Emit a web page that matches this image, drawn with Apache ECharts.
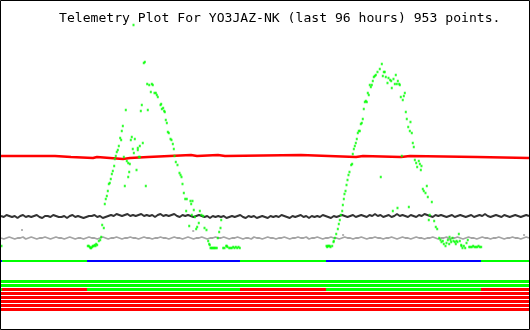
<!DOCTYPE html>
<html><head><meta charset="utf-8">
<script src="https://cdn.jsdelivr.net/npm/echarts@6/dist/echarts.min.js"></script>
<style>html,body{margin:0;padding:0;background:#fff}#c{width:530px;height:330px}</style>
</head><body><div id="c"></div>
<script>
// ---------- data (x in hours over the last 96 h, y in plot units) ----------
const titleText = 'Telemetry Plot For YO3JAZ-NK (last 96 hours) 953 points.';
const spanHours = [0, 96];
const sampleStepHours = 0.5;

// red channel: step changes
const redBreakHours = [0, 9.82, 12.73, 16.73, 17.45, 22.18, 23.45, 26.73, 34.55, 35.64, 39.45, 40.73, 54.55, 64.55, 65.82, 72.73, 74.36, 86.55, 96];
const redLevels     = [174, 173, 172, 173, 171, 172, 173, 175, 174, 175, 174, 175, 173, 174, 173, 174, 173, 172, 172];

// dark channel (every 0.5 h)
const blackLevels = [
114,113,115,114,113,114,112,114,115,113,
114,113,114,115,113,112,114,114,113,115,
114,113,113,114,112,114,115,113,114,113,
112,113,114,114,115,113,114,112,113,114,
115,114,116,115,114,115,116,114,115,114,
115,116,114,115,114,115,113,115,116,114,
115,114,115,116,114,113,115,114,115,114,
113,114,115,114,113,114,112,114,113,114,
113,114,112,113,114,113,114,115,113,112,
114,113,114,112,113,114,113,112,114,113,
114,113,115,114,113,112,114,113,114,115,
113,114,112,114,113,114,113,115,114,113,
112,114,113,114,115,114,113,114,115,113,
114,115,114,113,115,114,116,114,115,113,
114,115,113,114,116,114,115,114,113,115,
114,113,115,114,116,115,114,113,115,114,
115,114,113,114,115,113,114,115,114,113,
114,115,113,114,115,114,116,114,113,114,
115,114,113,115,114,113,114,115,114,113,
114,115,114];

// grey channel (every 0.5 h)
const grayLevels = [
92,91,92,93,92,91,92,92,93,91,
92,93,92,91,92,92,93,92,91,92,
93,92,92,91,92,93,92,91,92,92,
91,92,93,92,92,91,92,93,92,91,
92,92,93,92,91,92,92,93,92,92,
91,92,93,92,92,91,92,92,93,92,
92,91,92,93,92,92,91,92,93,92,
91,92,92,93,92,91,92,92,93,92,
92,93,92,91,92,92,93,92,91,92,
92,91,93,92,92,91,92,93,92,92,
91,92,92,93,92,91,92,92,93,92,
92,93,91,92,92,93,92,91,92,92,
93,92,92,91,92,93,92,92,91,92,
92,93,92,91,92,92,93,92,92,91,
92,92,93,92,91,92,93,92,92,91,
92,93,92,92,91,92,92,93,92,91,
92,92,93,91,92,92,93,92,91,92,
93,92,92,91,92,93,92,92,91,92,
92,93,92,91,92,92,93,92,92,91,
92,93,92];
const grayOutliers = [[3.82,100],[34.95,99],[62.2,95],[95.1,95]];

// green channel: first daylight pass [hours, value]
const greenPass1 = [
[0.09,84],
[15.78,84],[15.96,84],[16.15,83],[16.27,82],[16.40,82],[16.58,83],[16.69,84],[16.87,84],[17.05,85],[17.18,84],
[17.31,86],[17.49,85],[17.78,89],[18.04,90],[18.22,93],[18.40,105],[18.69,102],[18.87,126],[19.05,131],[19.24,134],
[19.42,139],[19.60,146],[19.78,147],[19.96,151],[20.15,156],[20.33,159],[20.58,164],[20.69,171],[20.87,174],[21.05,178],
[21.24,180],[21.42,184],[21.67,192],[21.85,190],[21.96,199],[22.15,204],[22.33,173],[22.51,144],[22.69,220],[22.87,169],
[23.13,167],[23.13,153],[23.31,158],[23.42,166],[23.60,190],[23.78,193],[23.96,181],[24.09,305],[24.15,177],[24.33,191],
[24.64,160],[24.87,182],[24.87,180],[25.05,173],[25.24,184],[25.24,173],[25.42,219],[25.60,225],[25.78,187],[25.96,267],
[26.15,268],[26.33,144],[26.58,246],[26.69,220],[26.95,245],[27.24,238],[27.42,246],[27.60,245],[27.91,237],[28.15,237],
[28.33,235],[28.51,233],[29.00,225],[29.13,226],[29.24,221],[29.49,222],[29.67,219],[29.78,218],[29.96,210],[30.15,207],
[30.33,198],[30.51,197],[30.82,191],[31.00,190],[31.24,186],[31.42,181],[31.55,174],[31.78,168],[32.09,165],[32.45,157],
[32.64,155],[32.82,153],[33.00,146],[33.24,137],[33.49,131],[33.67,119],[33.78,131],[34.22,104],[34.45,129],[34.58,126],
[34.69,115],[34.82,129],[35.05,120],[35.24,113],[35.49,101],[35.67,103],[35.96,107],[36.15,119],[36.45,115],[36.76,114],
[37.00,102],[37.36,100],[37.67,89],[37.85,86],[37.96,85],[38.09,82],[38.27,82],[38.45,82],[38.64,82],[38.82,82],
[39.00,82],[39.24,82],[39.42,92],[39.67,98],[39.91,102],[40.04,110],[40.40,82],[40.64,82],[40.95,84],[41.05,84],
[41.18,83],[41.49,82],[41.73,82],[41.96,82],[42.22,83],[42.45,82],[42.69,83],[42.95,82],[43.18,83],[43.42,82]];

// green channel: second daylight pass [hours, value]
const greenPass2 = [
[59.18,84],[59.31,83],[59.42,84],[59.60,84],[59.78,84],[59.91,83],[60.22,84],[60.45,88],[60.51,89],[60.69,92],
[60.95,96],[61.24,101],[61.42,106],[61.60,110],[61.78,115],[62.04,119],[62.15,125],[62.33,131],[62.45,136],[62.64,139],
[62.82,145],[63.00,150],[63.18,155],[63.36,158],[63.67,165],[63.85,166],[63.96,176],[64.15,181],[64.33,184],[64.51,187],
[64.69,191],[64.87,197],[65.05,199],[65.24,199],[65.42,206],[65.60,207],[65.78,211],[65.96,221],[66.15,228],[66.33,229],
[66.51,228],[66.69,237],[66.87,235],[67.05,245],[67.24,243],[67.42,245],[67.60,249],[67.78,253],[67.96,254],[68.15,255],
[68.45,258],[68.87,261],[69.05,153],[69.24,266],[69.42,254],[69.60,258],[69.78,258],[69.96,253],[70.27,247],[70.45,252],
[70.76,250],[70.95,249],[71.05,242],[71.24,119],[71.36,251],[71.60,246],[71.78,255],[71.96,246],[72.09,122],[72.15,249],
[72.40,246],[72.51,245],[72.69,233],[72.87,174],[73.05,230],[73.24,234],[73.42,237],[73.60,218],[73.78,211],[74.04,203],
[74.15,123],[74.33,199],[74.45,208],[74.69,197],[74.87,187],[75.05,183],[75.24,170],[75.49,167],[75.67,163],[75.96,169],
[76.15,166],[76.33,160],[76.45,164],[76.69,141],[76.87,139],[77.18,137],[77.42,144],[77.60,133],[77.78,110],[77.96,115],
[78.33,128],[78.76,109],[79.05,103],[79.31,101],[79.67,92],[79.91,90],[80.09,88],[80.33,89],[80.51,86],[80.82,84],
[81.00,87],[81.24,90],[81.49,86],[81.55,93],[81.73,90],[81.85,88],[82.09,92],[82.27,89],[82.51,88],[82.69,86],
[82.82,89],[83.00,88],[83.24,96],[83.42,89],[83.67,85],[83.73,84],[83.91,82],[84.15,84],[84.40,82],[84.64,87],
[84.87,90],[85.13,83],[85.36,83],[85.60,83],[85.85,84],[86.09,83],[86.33,83],[86.58,83],[86.82,84],[87.05,83],[87.31,83]];

// status line and digital bits
const statusLineLevel = 69;
const flagRanges = [[0, 0.18], [15.64, 43.45], [59.09, 87.27]];
const bitLevels = [48.5, 44.5, 40.5, 36.5, 32.5, 28.5, 24.5, 20.5];
const bitStates = ['1', '1', 'F', '0', '0', '0', '0', '0']; // 'F' follows the flag ranges

// ---------- build ----------
const GREEN = '#00ff00', RED = '#ff0000', BLUE = '#0000ff';
function hLine(level, a, b, color, width, z) {
  return { type: 'line', data: [[a, level], [b, level]], symbol: 'none', silent: true,
    lineStyle: { color: color, width: width, cap: 'butt' }, z: z, animation: false };
}
const series = [];
bitLevels.forEach((lvl, i) => {
  const st = bitStates[i];
  series.push(hLine(lvl, spanHours[0], spanHours[1], st === '1' ? GREEN : RED, 3, 1));
  if (st === 'F') flagRanges.forEach(r => series.push(hLine(lvl, r[0], r[1], GREEN, 3, 2)));
});
series.push(hLine(statusLineLevel, spanHours[0], spanHours[1], GREEN, 2, 1));
flagRanges.forEach(r => series.push(hLine(statusLineLevel, r[0], r[1], BLUE, 2, 2)));
series.push({ type: 'line', step: 'end', symbol: 'none', silent: true, z: 3,
  data: redBreakHours.map((h, i) => [h, redLevels[i]]),
  lineStyle: { color: RED, width: 2.5 } });
series.push({ type: 'line', step: 'middle', symbol: 'none', silent: true, z: 4,
  data: blackLevels.map((v, i) => [i * sampleStepHours, v]),
  lineStyle: { color: '#333333', width: 2 } });
series.push({ type: 'line', step: 'middle', symbol: 'none', silent: true, z: 4,
  data: grayLevels.map((v, i) => [i * sampleStepHours, v]),
  lineStyle: { color: '#a4a4a4', width: 1.8 } });
series.push({ type: 'scatter', symbol: 'rect', symbolSize: [2, 2], silent: true, z: 4,
  data: grayOutliers, itemStyle: { color: '#a4a4a4' } });
series.push({ type: 'scatter', symbol: 'rect', symbolSize: [2, 2.5], silent: true, z: 5,
  data: greenPass1.concat(greenPass2), itemStyle: { color: GREEN } });

const chart = echarts.init(document.getElementById('c'), null, { renderer: 'canvas' });
chart.setOption({
  animation: false,
  title: { text: titleText, left: 59, top: 12, padding: 0,
    textStyle: { fontFamily: 'DejaVu Sans Mono', fontSize: 13.1, fontWeight: 'normal', color: '#000' } },
  grid: { left: 1, top: 0, width: 528, height: 330, show: false },
  xAxis: { type: 'value', min: spanHours[0], max: spanHours[1], show: false },
  yAxis: { type: 'value', min: 0, max: 330, show: false },
  graphic: [{ type: 'rect', silent: true, z: 100,
    shape: { x: 0.5, y: 0.5, width: 529, height: 329 },
    style: { fill: 'none', stroke: '#000', lineWidth: 1 } }],
  series: series
});
</script></body></html>
